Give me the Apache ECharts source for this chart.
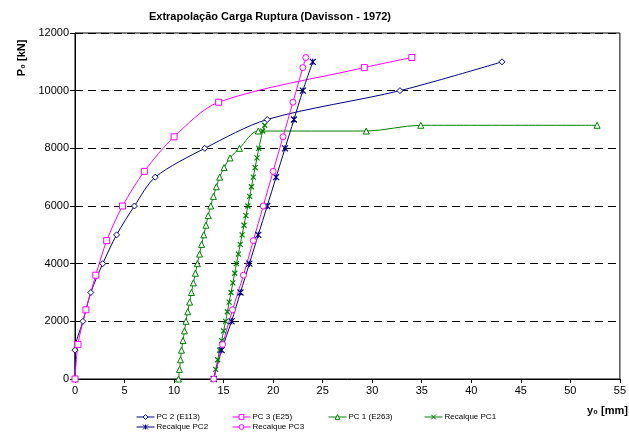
<!DOCTYPE html>
<html>
<head>
<meta charset="utf-8">
<script src="https://cdn.jsdelivr.net/npm/echarts@6/dist/echarts.min.js"></script>
<style>html,body{margin:0;padding:0;background:#fff}#c{width:629px;height:438px}</style>
</head>
<body>
<div id="c"></div>
<script>
const xTicks = [0,5,10,15,20,25,30,35,40,45,50,55];
const yTicks = [0,2000,4000,6000,8000,10000,12000];

const pc2X = [0,0,0.8,1.6,2.8,4.2,6.0,8.1,13.1,19.4,32.8,43.1];
const pc2Y = [0,1000,2000,3000,4000,5000,6000,7000,8000,9000,10000,11000];

const pc3X = [0,0.3,1.1,2.1,3.2,4.8,7.0,10.0,14.5,29.2,34.0];
const pc3Y = [0,1200,2400,3600,4800,6000,7200,8400,9600,10800,11150];

const pc1X = [10.45,10.55,10.65,10.75,10.9,11.05,11.2,11.38,11.57,11.75,11.95,12.15,12.35,12.57,12.78,13.0,13.22,13.45,13.7,13.97,14.27,14.6,15.05,15.65,16.6,18.5,29.4,34.9,52.7];
const pc1Y = [0,333,667,1000,1333,1667,2000,2333,2667,3000,3333,3667,4000,4333,4667,5000,5333,5667,6000,6333,6667,7000,7333,7667,8000,8600,8600,8800,8800];

const rec1X = [14.0,14.2,14.4,14.6,14.8,15.0,15.2,15.38,15.56,15.75,15.93,16.12,16.3,16.49,16.68,16.87,17.06,17.25,17.45,17.63,17.81,18.0,18.18,18.37,18.55,18.95,19.15];
const rec1Y = [0,333,667,1000,1333,1667,2000,2333,2667,3000,3333,3667,4000,4333,4667,5000,5333,5667,6000,6333,6667,7000,7333,7667,8000,8600,8800];

const rec2X = [14.0,14.8,15.8,16.7,17.6,18.5,19.4,20.3,21.2,22.1,23.0,24.0];
const rec2Y = [0,1000,2000,3000,4000,5000,6000,7000,8000,9000,10000,11000];

const rec3X = [14.0,14.9,15.9,17.0,18.0,19.0,20.0,21.0,22.0,23.0,23.3];
const rec3Y = [0,1200,2400,3600,4800,6000,7200,8400,9600,10800,11150];

const names = ['PC 2 (E113)','PC 3 (E25)','PC 1 (E263)','Recalque PC1','Recalque PC2','Recalque PC3'];
const NAVY = '#000080', MAG = '#FF00FF', GRN = '#008000';

function zip(xs, ys){ return xs.map((x,i)=>[x, ys[i]]); }
const X_SYM = 'path://M0,0L10,10M10,0L0,10';
const AST_SYM = 'path://M0,0L10,10M10,0L0,10M5,0L5,10';

function ser(name, xs, ys, color, symbol, size, smooth){
  const isPath = symbol.indexOf('path://')===0;
  return {
    name, type:'line', data: zip(xs, ys), smooth: smooth,
    symbol, symbolSize: size, showSymbol:true,
    lineStyle:{color, width:1, type:'solid'},
    itemStyle: isPath ? {color:'rgba(0,0,0,0)', borderColor:color, borderWidth:1.2}
                      : {color:'#fff', borderColor:color, borderWidth:1},
    emphasis:{disabled:true}, animation:false, z: 3
  };
}

const font = 'Liberation Sans';
const legendPos = [[136,413],[232,413],[328,413],[424,413],[136,423],[232,423]];

const chart = echarts.init(document.getElementById('c'), null, {renderer:'canvas'});
chart.setOption({
  animation:false,
  backgroundColor:'#fff',
  title:{text:'Extrapolação Carga Ruptura (Davisson - 1972)', left:265, top:6, textAlign:'center',
    textStyle:{fontFamily:font, fontWeight:'bold', fontSize:11, color:'#000'}},
  grid:{left:75, right:4, top:33, bottom:59, show:true, borderColor:'#000', borderWidth:1, containLabel:false},
  legend: names.map((n,i)=>({
    data:[n], left:legendPos[i][0], top:legendPos[i][1], itemWidth:18, itemHeight:6, itemGap:4,
    itemStyle:{borderWidth:1}, lineStyle:{width:1},
    padding:0, textStyle:{fontFamily:font, fontSize:8, color:'#000', padding:[0,0,0,-3]}, selectedMode:false
  })),
  xAxis:{type:'value', min:xTicks[0], max:xTicks[xTicks.length-1], interval:5,
    axisLine:{show:true, onZero:false, lineStyle:{color:'#000', width:1}},
    axisTick:{show:true, inside:false, length:4, lineStyle:{color:'#000'}},
    axisLabel:{fontFamily:font, fontSize:11, color:'#000', margin:6, formatter:v=>String(v)},
    splitLine:{show:false}},
  yAxis:{type:'value', min:yTicks[0], max:yTicks[yTicks.length-1], interval:2000,
    axisLine:{show:true, onZero:false, lineStyle:{color:'#000', width:1}},
    axisTick:{show:true, inside:false, length:5, lineStyle:{color:'#000'}},
    axisLabel:{fontFamily:font, fontSize:11, color:'#000', margin:6, formatter:v=>String(v)},
    splitLine:{show:true, lineStyle:{color:'#000', type:[8,5], width:1}}},
  graphic:[
    {type:'text', x:22, y:58, rotation:Math.PI/2, style:{text:'P₀ [kN]', font:'bold 11px "Liberation Sans", "DejaVu Sans"', fill:'#000', textAlign:'center', textVerticalAlign:'middle'}},
    {type:'text', x:628, y:411, style:{text:'y₀ [mm]', font:'bold 11px "Liberation Sans", "DejaVu Sans"', fill:'#000', textAlign:'right', textVerticalAlign:'middle'}}
  ],
  series:[
    ser(names[0], pc2X, pc2Y, NAVY, 'diamond', 6, 0.3),
    ser(names[1], pc3X, pc3Y, MAG, 'rect', 6, 0.3),
    ser(names[2], pc1X, pc1Y, GRN, 'triangle', 6, 0.3),
    ser(names[3], rec1X, rec1Y, GRN, X_SYM, 5, 0.3),
    ser(names[4], rec2X, rec2Y, NAVY, AST_SYM, 6, 0.3),
    ser(names[5], rec3X, rec3Y, MAG, 'circle', 6, 0.3)
  ]
});
</script>
</body>
</html>
